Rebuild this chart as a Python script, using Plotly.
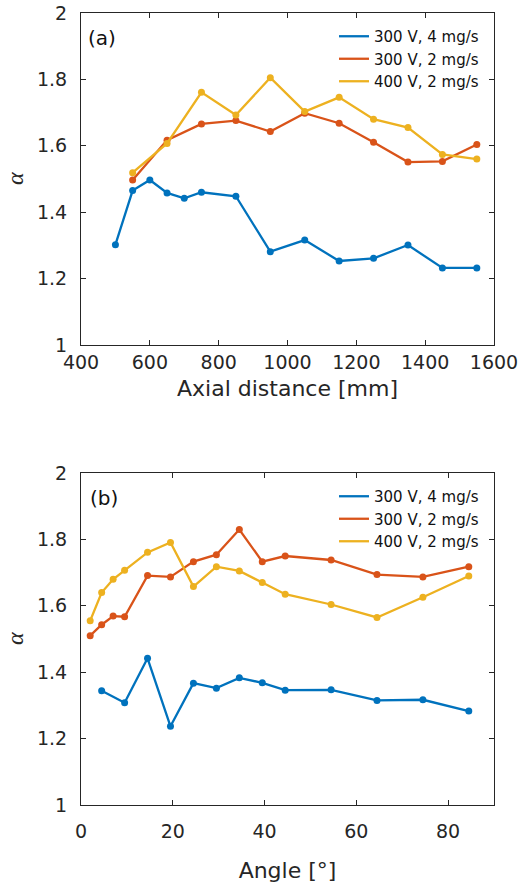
import plotly.graph_objects as go

# ---- data: panel (a) ----
axial_blue = [500, 550, 600, 650, 700, 750, 850, 950, 1050, 1150, 1250, 1350, 1450, 1550]
alpha_blue_a = [1.302, 1.465, 1.497, 1.458, 1.442, 1.460, 1.448, 1.281, 1.316, 1.253, 1.261, 1.301, 1.232, 1.232]
axial_other = [550, 650, 750, 850, 950, 1050, 1150, 1250, 1350, 1450, 1550]
alpha_red_a = [1.497, 1.617, 1.666, 1.676, 1.643, 1.698, 1.668, 1.611, 1.551, 1.553, 1.604]
alpha_yel_a = [1.519, 1.607, 1.761, 1.693, 1.805, 1.703, 1.746, 1.680, 1.655, 1.574, 1.560]

# ---- data: panel (b) ----
angle_blue = [4.5, 9.5, 14.5, 19.5, 24.5, 29.5, 34.5, 39.5, 44.5, 54.5, 64.5, 74.5, 84.5]
alpha_blue_b = [1.344, 1.308, 1.442, 1.237, 1.367, 1.352, 1.383, 1.368, 1.346, 1.347, 1.315, 1.317, 1.283]
angle_other = [2, 4.5, 7, 9.5, 14.5, 19.5, 24.5, 29.5, 34.5, 39.5, 44.5, 54.5, 64.5, 74.5, 84.5]
alpha_red_b = [1.510, 1.543, 1.569, 1.567, 1.691, 1.687, 1.733, 1.754, 1.830, 1.733, 1.750, 1.738, 1.694, 1.687, 1.718]
alpha_yel_b = [1.555, 1.640, 1.680, 1.707, 1.761, 1.791, 1.658, 1.718, 1.705, 1.670, 1.635, 1.604, 1.565, 1.626, 1.690]

series_names = ["300 V, 4 mg/s", "300 V, 2 mg/s", "400 V, 2 mg/s"]
colors = ["#0072BD", "#D95319", "#EDB120"]

FONT = "DejaVu Sans"
AX = "#262626"

fig = go.Figure()

panels = [
    ("x", "y", "legend", [(axial_blue, alpha_blue_a), (axial_other, alpha_red_a), (axial_other, alpha_yel_a)]),
    ("x2", "y2", "legend2", [(angle_blue, alpha_blue_b), (angle_other, alpha_red_b), (angle_other, alpha_yel_b)]),
]

for xa, ya, leg, data in panels:
    for (xs, ys), name, col in zip(data, series_names, colors):
        fig.add_trace(go.Scatter(
            x=xs, y=ys, mode="lines+markers", name=name, xaxis=xa, yaxis=ya,
            line=dict(color=col, width=2.3), marker=dict(color=col, size=7),
            showlegend=False))
    for name, col in zip(series_names, colors):
        fig.add_trace(go.Scatter(
            x=[None], y=[None], mode="lines", name=name, xaxis=xa, yaxis=ya,
            line=dict(color=col, width=2.3), legend=leg, showlegend=True))

axis_common = dict(showline=True, linecolor=AX, linewidth=1, mirror="ticks",
                   ticks="inside", ticklen=5, tickcolor=AX, showgrid=False,
                   zeroline=False, automargin=False,
                   tickfont=dict(family=FONT, size=19, color="#262626"))

fig.update_layout(
    width=526, height=885,
    margin=dict(l=0, r=0, t=0, b=0),
    paper_bgcolor="white", plot_bgcolor="white",
    font=dict(family=FONT, color="#262626"),
    xaxis=dict(domain=[0.1540, 0.9392], range=[400, 1600], dtick=200, tick0=400,
               anchor="y", ticklabelstandoff=0,
               title=dict(text="Axial distance [mm]", font=dict(family=FONT, size=22), standoff=8),
               **axis_common),
    yaxis=dict(domain=[0.6102, 0.9853], range=[1, 2], dtick=0.2, tick0=1, anchor="x",
               ticklabelstandoff=9, **axis_common),
    xaxis2=dict(domain=[0.1540, 0.9392], range=[0, 90], dtick=20, tick0=0, anchor="y2",
                ticklabelstandoff=9,
                title=dict(text="Angle [°]", font=dict(family=FONT, size=22), standoff=21),
                **axis_common),
    yaxis2=dict(domain=[0.0904, 0.4655], range=[1, 2], dtick=0.2, tick0=1, anchor="x2",
                ticklabelstandoff=9, **axis_common),
    legend=dict(x=0.635, y=1 - 20 / 885, xanchor="left", yanchor="top",
                bgcolor="rgba(255,255,255,0)", font=dict(family=FONT, size=15, color="#111"),
                tracegroupgap=0, itemclick=False),
    legend2=dict(x=0.635, y=1 - 480 / 885, xanchor="left", yanchor="top",
                 bgcolor="rgba(255,255,255,0)", font=dict(family=FONT, size=15, color="#111"),
                 tracegroupgap=0, itemclick=False),
    showlegend=True,
)

annots = [
    dict(text="(a)", x=102 / 526, y=1 - 37.5 / 885),
    dict(text="(b)", x=104 / 526, y=1 - 497.5 / 885),
]
for a in annots:
    fig.add_annotation(xref="paper", yref="paper", showarrow=False, xanchor="center",
                       yanchor="middle", font=dict(family=FONT, size=20, color="#111"), **a)

for yc in [179, 639]:
    fig.add_annotation(xref="paper", yref="paper", showarrow=False, text="<i>α</i>",
                       x=15 / 526, y=1 - yc / 885, xanchor="center", yanchor="middle",
                       textangle=-90,
                       font=dict(family="Liberation Serif", size=24, color="#262626"))

fig.write_html("out.html", config={"displayModeBar": False},
               post_script="document.body.style.margin='0';document.body.style.overflow='hidden';")
